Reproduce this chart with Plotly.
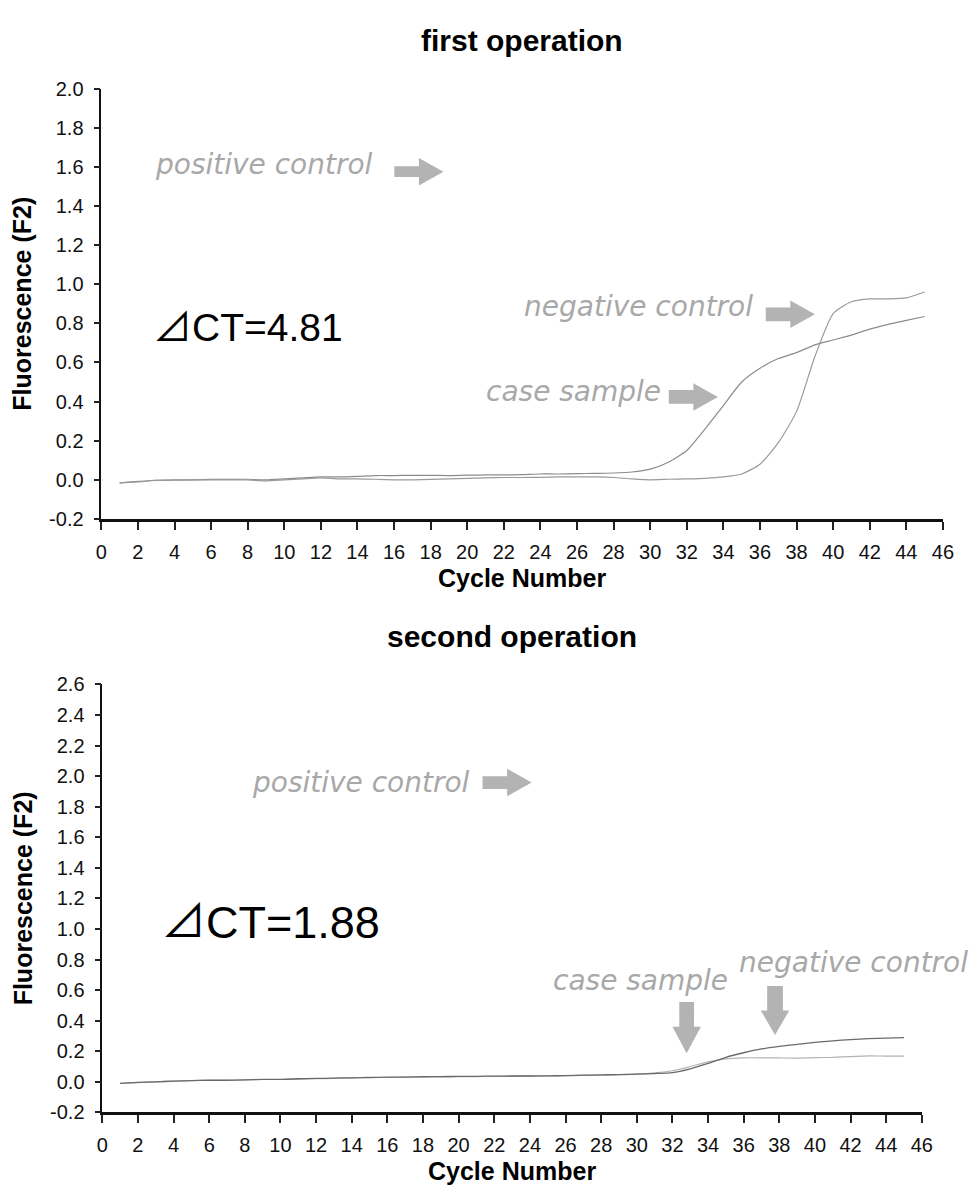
import plotly.graph_objects as go

# Cycle numbers shared by every amplification curve
cycles = list(range(1, 46))

# First operation: fluorescence (F2) per cycle
first_case = [-0.015, -0.008, -0.002, 0.0, 0.0, 0.002, 0.002, 0.003, 0.0, 0.005,
              0.01, 0.015, 0.015, 0.018, 0.022, 0.022, 0.023, 0.023, 0.022, 0.024,
              0.025, 0.025, 0.027, 0.03, 0.03, 0.032, 0.033, 0.035, 0.04, 0.055,
              0.09, 0.15, 0.26, 0.38, 0.5, 0.57, 0.62, 0.65, 0.69, 0.715,
              0.74, 0.77, 0.795, 0.815, 0.835]
first_negative = [-0.015, -0.01, -0.003, -0.002, 0.0, 0.0, 0.0, 0.0, -0.005, 0.0,
                  0.005, 0.01, 0.005, 0.005, 0.003, 0.0, 0.0, 0.002, 0.005, 0.008,
                  0.01, 0.012, 0.012, 0.013, 0.015, 0.015, 0.015, 0.012, 0.005, 0.0,
                  0.003, 0.005, 0.008, 0.015, 0.03, 0.08, 0.19, 0.35, 0.63, 0.85,
                  0.91, 0.925, 0.925, 0.93, 0.96]

# Second operation: fluorescence (F2) per cycle
second_case = [-0.01, -0.005, 0.0, 0.005, 0.008, 0.01, 0.01, 0.012, 0.015, 0.015,
               0.018, 0.02, 0.022, 0.025, 0.028, 0.028, 0.03, 0.032, 0.032, 0.033,
               0.034, 0.035, 0.036, 0.037, 0.038, 0.04, 0.042, 0.044, 0.046, 0.05,
               0.058, 0.072, 0.1, 0.13, 0.15, 0.157, 0.157, 0.156, 0.155, 0.158,
               0.16, 0.165, 0.17, 0.168, 0.168]
second_negative = [-0.01, -0.004, 0.0, 0.004, 0.008, 0.01, 0.01, 0.013, 0.016, 0.016,
                   0.02, 0.022, 0.024, 0.026, 0.028, 0.03, 0.031, 0.033, 0.034, 0.035,
                   0.036, 0.037, 0.038, 0.038, 0.039, 0.04, 0.043, 0.045, 0.047, 0.05,
                   0.054, 0.06, 0.085, 0.12, 0.16, 0.19, 0.215, 0.232, 0.245, 0.258,
                   0.268, 0.276, 0.282, 0.286, 0.289]

# Axis ticks
x_ticks = list(range(0, 47, 2))
y_ticks_first = [round(-0.2 + 0.2 * i, 1) for i in range(12)]
y_ticks_second = [round(-0.2 + 0.2 * i, 1) for i in range(15)]

W, H = 980, 1196
X1_PX = (97, 953.5)     # first panel horizontal pixel span
Y1_PX = (517.5, 79)     # first panel vertical pixel span (bottom, top)
X2_PX = (98, 932)
Y2_PX = (1122, 686)
X_RANGE = [0, 46]
Y1_RANGE = [-0.2, 2.0]
Y2_RANGE = [-0.2, 2.6]

fig = go.Figure()

line_style = dict(shape="spline", smoothing=0.6)
fig.add_trace(go.Scatter(x=cycles, y=first_case, mode="lines", name="case sample",
                         line=dict(color="#8c8c8c", width=1.2, **line_style),
                         xaxis="x", yaxis="y"))
fig.add_trace(go.Scatter(x=cycles, y=first_negative, mode="lines", name="negative control",
                         line=dict(color="#9a9a9a", width=1.2, **line_style),
                         xaxis="x", yaxis="y"))
fig.add_trace(go.Scatter(x=cycles, y=second_case, mode="lines", name="case sample",
                         line=dict(color="#b4b4b4", width=1.2, **line_style),
                         xaxis="x2", yaxis="y2"))
fig.add_trace(go.Scatter(x=cycles, y=second_negative, mode="lines", name="negative control",
                         line=dict(color="#6a6a6a", width=1.3, **line_style),
                         xaxis="x2", yaxis="y2"))

tick_font = dict(family="Liberation Sans, Arial, sans-serif", size=20, color="#111")
title_font = dict(family="Liberation Sans, Arial, sans-serif", size=25, color="#000",
                  weight="bold")


def x_axis(px, anchor):
    return dict(domain=[px[0] / W, px[1] / W], range=X_RANGE, anchor=anchor,
                tickvals=x_ticks, ticks="outside", ticklen=8, tickwidth=1.5,
                tickcolor="#222", ticklabelstandoff=5, tickfont=tick_font,
                showline=True, linecolor="#111", linewidth=2.5, showgrid=False,
                zeroline=False, title=dict(text="Cycle Number", font=title_font,
                                           standoff=8))


def y_axis(px, rng, vals, anchor):
    return dict(domain=[1 - px[0] / H, 1 - px[1] / H], range=rng, anchor=anchor,
                tickvals=vals, ticktext=[f"{v:.1f}" for v in vals],
                ticks="outside", ticklen=6, tickwidth=1.5, tickcolor="#222",
                ticklabelstandoff=6, tickfont=tick_font,
                showline=True, linecolor="#111", linewidth=1.5, showgrid=False,
                zeroline=False, title=dict(text="Fluorescence (F2)", font=title_font,
                                           standoff=10))


fig.update_layout(
    width=W, height=H, autosize=False,
    margin=dict(l=0, r=0, t=0, b=0),
    paper_bgcolor="white", plot_bgcolor="white",
    showlegend=False,
    xaxis=x_axis(X1_PX, "y"),
    yaxis=y_axis(Y1_PX, Y1_RANGE, y_ticks_first, "x"),
    xaxis2=x_axis(X2_PX, "y2"),
    yaxis2=y_axis(Y2_PX, Y2_RANGE, y_ticks_second, "x2"),
)

# Panel titles
panel_title_font = dict(family="Liberation Sans, Arial, sans-serif", size=30,
                        color="#000", weight="bold")
fig.add_annotation(text="first operation", x=525 / W, y=1 - 30 / H, xref="paper",
                   yref="paper", showarrow=False, xanchor="center", yanchor="middle",
                   font=panel_title_font)
fig.add_annotation(text="second operation", x=515 / W, y=1 - 637 / H, xref="paper",
                   yref="paper", showarrow=False, xanchor="center", yanchor="middle",
                   font=panel_title_font)

label_font = dict(family="DejaVu Sans, sans-serif", size=28, color="#a8a8a8",
                  style="italic")
delta_font = dict(family="Liberation Sans, Arial, Noto Sans CJK JP, sans-serif",
                  color="#000")


def label(text, x, y, xa, ya, font=label_font):
    fig.add_annotation(text=text, x=x, y=y, xref=xa, yref=ya, showarrow=False,
                       xanchor="left", yanchor="middle", font=font)


label("positive control", 2.85, 1.61, "x", "y")
label("negative control", 23.0, 0.885, "x", "y")
label("case sample", 20.9, 0.45, "x", "y")
label("⊿CT=4.81", 2.7, 0.78, "x", "y", dict(delta_font, size=39))

label("positive control", 8.3, 1.96, "x2", "y2")
label("case sample", 25.2, 0.66, "x2", "y2")
label("negative control", 35.6, 0.78, "x2", "y2")
label("⊿CT=1.88", 3.2, 1.04, "x2", "y2", dict(delta_font, size=45))


# Block arrows: tip given in data units, dimensions in screen pixels
def block_arrow(tip_x, tip_y, direction, xa, ya, xpx, ypx, yrng,
                length=50, body=13, head=28, head_len=25):
    dx = (X_RANGE[1] - X_RANGE[0]) / (xpx[1] - xpx[0])   # data per px
    dy = (yrng[1] - yrng[0]) / (ypx[0] - ypx[1])
    if direction == "right":
        pts = [(-length, -body / 2), (-head_len, -body / 2), (-head_len, -head / 2),
               (0, 0), (-head_len, head / 2), (-head_len, body / 2),
               (-length, body / 2)]
    else:
        pts = [(-body / 2, length), (-body / 2, head_len), (-head / 2, head_len),
               (0, 0), (head / 2, head_len), (body / 2, head_len),
               (body / 2, length)]
    pts = [(tip_x + u * dx, tip_y + v * dy) for u, v in pts]
    path = "M " + " L ".join(f"{px:.4f},{py:.4f}" for px, py in pts) + " Z"
    fig.add_shape(type="path", path=path, xref=xa, yref=ya,
                  fillcolor="#b3b3b3", line=dict(width=0))


block_arrow(18.7, 1.575, "right", "x", "y", X1_PX, Y1_PX, Y1_RANGE, body=11)
block_arrow(39.0, 0.846, "right", "x", "y", X1_PX, Y1_PX, Y1_RANGE, body=14)
block_arrow(33.7, 0.424, "right", "x", "y", X1_PX, Y1_PX, Y1_RANGE, body=14)

block_arrow(24.1, 1.958, "right", "x2", "y2", X2_PX, Y2_PX, Y2_RANGE, body=13)
block_arrow(32.8, 0.1875, "down", "x2", "y2", X2_PX, Y2_PX, Y2_RANGE,
            length=52, body=15, head=29, head_len=27)
block_arrow(37.76, 0.306, "down", "x2", "y2", X2_PX, Y2_PX, Y2_RANGE,
            length=50, body=16, head=29, head_len=25)

fig.write_html("out.html")
